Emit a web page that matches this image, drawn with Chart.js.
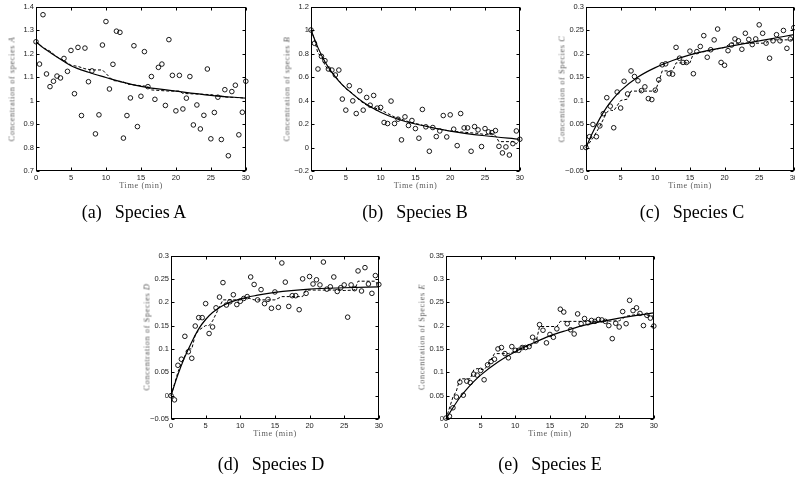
<!DOCTYPE html>
<html>
<head>
<meta charset="utf-8">
<script src="https://cdn.jsdelivr.net/npm/chart.js@4.4.1/dist/chart.umd.min.js"></script>
<style>
  html, body { margin: 0; padding: 0; background: #fff; }
  body { width: 795px; height: 477px; position: relative; overflow: hidden; }
  canvas { position: absolute; }
  .ytitle, .xtitle { position: absolute; white-space: nowrap; font-family: "Liberation Serif", "DejaVu Serif", serif; font-size: 8.3px; letter-spacing: 0.6px; color: #5c5c5c; transform-origin: center center; }
  .cap { position: absolute; white-space: nowrap; font-family: "Liberation Serif", "Times New Roman", serif; font-size: 18px; color: #000; transform: translate(-50%, -50%); }
  .cap span { margin-left: 13px; }
</style>
</head>
<body>
<canvas id="chartA"></canvas>
<canvas id="chartB"></canvas>
<canvas id="chartC"></canvas>
<canvas id="chartD"></canvas>
<canvas id="chartE"></canvas>
<script>
// sample times (min)
const TIME = [0, 0.5, 1, 1.5, 2, 2.5, 3, 3.5, 4, 4.5, 5, 5.5, 6, 6.5, 7, 7.5, 8, 8.5, 9, 9.5, 10, 10.5, 11, 11.5, 12, 12.5, 13, 13.5, 14, 14.5, 15,
  15.5, 16, 16.5, 17, 17.5, 18, 18.5, 19, 19.5, 20, 20.5, 21, 21.5, 22, 22.5, 23, 23.5, 24, 24.5, 25, 25.5, 26, 26.5, 27, 27.5, 28, 28.5, 29, 29.5, 30];
const X_TICKS = [0, 5, 10, 15, 20, 25, 30];
const X_LABELS = ['0', '5', '10', '15', '20', '25', '30'];

// species A
const A_OBS = [1.25, 1.155, 1.365, 1.113, 1.059, 1.082, 1.104, 1.096, 1.179, 1.124, 1.213, 1.029, 1.226, 0.936, 1.223, 1.080, 1.126, 0.858, 0.939, 1.236, 1.336,
  1.049, 1.154, 1.295, 1.290, 0.840, 0.936, 1.011, 1.233, 0.889, 1.018, 1.208, 1.059, 1.102, 1.005, 1.141, 1.155, 0.979, 1.259, 1.107, 0.956,
  1.107, 0.964, 1.010, 1.102, 0.896, 0.981, 0.879, 0.937, 1.134, 0.837, 0.949, 1.014, 0.834, 1.046, 0.765, 1.038, 1.065, 0.854, 0.950, 1.082];
const A_FIT_T = [0, 1, 2, 3, 4, 5, 7.5, 10, 12.5, 15, 20, 25, 30];
const A_FIT = [1.25, 1.225, 1.205, 1.185, 1.166, 1.148, 1.12, 1.098, 1.077, 1.06, 1.04, 1.022, 1.01];
const A_EST_T = [0, 1, 2, 3, 4, 5, 6, 7, 8, 9.5, 10.5, 11, 12.5, 13, 15, 16, 16.5, 19, 20.5, 21, 25, 26, 27, 29, 30];
const A_EST = [1.25, 1.225, 1.21, 1.185, 1.17, 1.15, 1.145, 1.135, 1.13, 1.13, 1.10, 1.085, 1.08, 1.07, 1.063, 1.06, 1.045, 1.04, 1.04, 1.03, 1.025, 1.02, 1.015, 1.012, 1.01];
const A_Y_TICKS = [0.7, 0.8, 0.9, 1.0, 1.1, 1.2, 1.3, 1.4];
const A_Y_LABELS = ['0.7', '0.8', '0.9', '1', '1.1', '1.2', '1.3', '1.4'];

// species B
const B_OBS = [1.0, 0.887, 0.668, 0.776, 0.739, 0.668, 0.659, 0.617, 0.659, 0.412, 0.318, 0.526, 0.397, 0.289, 0.483, 0.318, 0.426, 0.360, 0.443, 0.335, 0.341,
  0.213, 0.204, 0.395, 0.204, 0.241, 0.065, 0.261, 0.187, 0.230, 0.161, 0.079, 0.324, 0.176, -0.032, 0.170, 0.093, 0.141, 0.272, 0.090, 0.278,
  0.156, 0.016, 0.289, 0.167, 0.167, -0.032, 0.178, 0.150, 0.008, 0.161, 0.133, 0.127, 0.144, 0.010, -0.046, 0.005, -0.064, 0.033, 0.141, 0.070];
const B_FIT_T = [0, 1, 2, 3, 4, 5, 7.5, 10, 12.5, 15, 20, 25, 30];
const B_FIT = [1.0, 0.85, 0.73, 0.64, 0.565, 0.505, 0.385, 0.30, 0.24, 0.20, 0.14, 0.10, 0.07];
const B_EST_T = [0, 0.5, 1, 1.5, 2, 2.5, 3, 4, 5, 6, 7, 8, 10, 12, 14, 16, 18, 20, 22, 24, 25, 26, 26.5, 27, 29, 29.5, 30];
const B_EST = [1.0, 0.92, 0.80, 0.78, 0.70, 0.66, 0.64, 0.57, 0.50, 0.46, 0.40, 0.36, 0.32, 0.26, 0.22, 0.19, 0.16, 0.14, 0.13, 0.12, 0.11, 0.12, 0.10, 0.05, 0.05, 0.03, 0.07];
const B_Y_TICKS = [-0.2, 0, 0.2, 0.4, 0.6, 0.8, 1.0, 1.2];
const B_Y_LABELS = ['\u22120.2', '0', '0.2', '0.4', '0.6', '0.8', '1', '1.2'];

// species C
const C_OBS = [0.0, 0.023, 0.049, 0.023, 0.046, 0.072, 0.106, 0.088, 0.042, 0.118, 0.084, 0.141, 0.114, 0.163, 0.151, 0.142, 0.121, 0.129, 0.104, 0.102, 0.122,
  0.144, 0.176, 0.178, 0.157, 0.156, 0.213, 0.190, 0.181, 0.181, 0.205, 0.157, 0.204, 0.215, 0.238, 0.192, 0.208, 0.229, 0.252, 0.181, 0.175,
  0.206, 0.218, 0.231, 0.227, 0.209, 0.243, 0.230, 0.219, 0.231, 0.261, 0.243, 0.222, 0.190, 0.227, 0.240, 0.227, 0.249, 0.211, 0.231, 0.255];
const C_FIT_T = [0, 1, 2, 3, 4, 5, 7.5, 10, 12.5, 15, 17.5, 20, 25, 30];
const C_FIT = [0, 0.033, 0.062, 0.086, 0.105, 0.121, 0.150, 0.170, 0.185, 0.197, 0.206, 0.213, 0.227, 0.240];
const C_EST_T = [0, 1, 2, 3, 3.5, 4, 5, 6, 6.5, 10, 10.5, 11, 12.5, 13, 15, 15.5, 17.5, 20, 21, 26, 26.5, 30];
const C_EST = [0, 0.02, 0.045, 0.075, 0.08, 0.078, 0.10, 0.103, 0.12, 0.12, 0.14, 0.163, 0.163, 0.18, 0.18, 0.20, 0.205, 0.213, 0.222, 0.222, 0.229, 0.229];
const C_Y_TICKS = [-0.05, 0, 0.05, 0.1, 0.15, 0.2, 0.25, 0.3];
const C_Y_LABELS = ['\u22120.05', '0', '0.05', '0.1', '0.15', '0.2', '0.25', '0.3'];

// species D
const D_OBS = [0, -0.009, 0.065, 0.078, 0.127, 0.094, 0.080, 0.149, 0.167, 0.167, 0.197, 0.133, 0.147, 0.188, 0.211, 0.242, 0.194, 0.201, 0.216, 0.195, 0.202,
  0.208, 0.212, 0.254, 0.238, 0.205, 0.227, 0.197, 0.206, 0.187, 0.222, 0.189, 0.284, 0.243, 0.191, 0.214, 0.214, 0.184, 0.250, 0.219, 0.255,
  0.239, 0.248, 0.237, 0.286, 0.228, 0.233, 0.254, 0.223, 0.231, 0.237, 0.168, 0.237, 0.229, 0.267, 0.224, 0.274, 0.239, 0.219, 0.257, 0.238];
const D_FIT_T = [0, 1, 2, 3, 4, 5, 6, 7.5, 10, 12.5, 15, 20, 25, 30];
const D_FIT = [0, 0.045, 0.083, 0.115, 0.143, 0.163, 0.178, 0.193, 0.207, 0.215, 0.221, 0.228, 0.231, 0.233];
const D_EST_T = [0, 1, 1.5, 2.5, 3, 3.5, 4, 5, 5.5, 6, 6.5, 7, 7.5, 10, 11, 12, 15, 16, 19, 19.5, 24, 25, 26.5, 27, 29.5, 30];
const D_EST = [0, 0.05, 0.07, 0.10, 0.10, 0.13, 0.14, 0.15, 0.15, 0.16, 0.175, 0.19, 0.205, 0.205, 0.21, 0.205, 0.205, 0.212, 0.212, 0.226, 0.226, 0.225, 0.226, 0.245, 0.245, 0.235];
const D_Y_TICKS = C_Y_TICKS;
const D_Y_LABELS = C_Y_LABELS;

// species E
const E_OBS = [0.002, 0.006, 0.024, 0.047, 0.079, 0.051, 0.081, 0.078, 0.096, 0.094, 0.104, 0.084, 0.116, 0.123, 0.128, 0.150, 0.153, 0.140, 0.131, 0.155, 0.147,
  0.147, 0.153, 0.153, 0.155, 0.175, 0.167, 0.202, 0.190, 0.163, 0.181, 0.175, 0.193, 0.235, 0.229, 0.204, 0.191, 0.182, 0.225, 0.204, 0.215,
  0.206, 0.211, 0.209, 0.213, 0.212, 0.209, 0.200, 0.172, 0.205, 0.197, 0.230, 0.204, 0.254, 0.232, 0.238, 0.226, 0.200, 0.222, 0.216, 0.199];
const E_FIT_T = [0, 1, 2, 3, 4, 5, 7.5, 10, 12.5, 15, 17.5, 20, 25, 30];
const E_FIT = [0, 0.024, 0.046, 0.064, 0.080, 0.094, 0.122, 0.144, 0.162, 0.178, 0.190, 0.201, 0.216, 0.227];
const E_EST_T = [0, 1, 1.5, 2, 3.5, 4, 4.5, 5.5, 6, 7, 9, 10, 11, 12, 13, 13.5, 16, 16.5, 22, 25, 26, 28, 30];
const E_EST = [0, 0.047, 0.06, 0.086, 0.086, 0.105, 0.108, 0.105, 0.115, 0.14, 0.14, 0.145, 0.155, 0.155, 0.165, 0.198, 0.198, 0.209, 0.209, 0.21, 0.22, 0.225, 0.22];
const E_Y_TICKS = [0, 0.05, 0.1, 0.15, 0.2, 0.25, 0.3, 0.35];
const E_Y_LABELS = ['0', '0.05', '0.1', '0.15', '0.2', '0.25', '0.3', '0.35'];

// layout: plot-area edges in page pixels
const PAD_L = 36, PAD_T = 6, PAD_R = 6, PAD_B = 24;
const panels = [
  { id: 'chartA', l: 36, t: 6, r: 246, b: 171, obs: A_OBS, fitT: A_FIT_T, fit: A_FIT, estT: A_EST_T, est: A_EST, yt: A_Y_TICKS, yl: A_Y_LABELS, title: 'Concentration of species ', sp: 'A', cap: '(a)', capName: 'Species A', cx: 134, cy: 212 },
  { id: 'chartB', l: 311, t: 6, r: 520, b: 171, obs: B_OBS, fitT: B_FIT_T, fit: B_FIT, estT: B_EST_T, est: B_EST, yt: B_Y_TICKS, yl: B_Y_LABELS, title: 'Concentration of species ', sp: 'B', cap: '(b)', capName: 'Species B', cx: 415, cy: 212 },
  { id: 'chartC', l: 586, t: 6, r: 794, b: 171, obs: C_OBS, fitT: C_FIT_T, fit: C_FIT, estT: C_EST_T, est: C_EST, yt: C_Y_TICKS, yl: C_Y_LABELS, title: 'Concentration of Species ', sp: 'C', cap: '(c)', capName: 'Species C', cx: 692, cy: 212 },
  { id: 'chartD', l: 171, t: 255, r: 379, b: 419, obs: D_OBS, fitT: D_FIT_T, fit: D_FIT, estT: D_EST_T, est: D_EST, yt: D_Y_TICKS, yl: D_Y_LABELS, title: 'Concentration of Species ', sp: 'D', cap: '(d)', capName: 'Species D', cx: 271, cy: 464 },
  { id: 'chartE', l: 446, t: 255, r: 654, b: 419, obs: E_OBS, fitT: E_FIT_T, fit: E_FIT, estT: E_EST_T, est: E_EST, yt: E_Y_TICKS, yl: E_Y_LABELS, title: 'Concentration of Species ', sp: 'E', cap: '(e)', capName: 'Species E', cx: 550, cy: 464 }
];

// box around the plot plus inward tick marks on all four sides
const boxTicks = {
  id: 'boxTicks',
  afterDraw(chart) {
    const { ctx, chartArea: a, scales: { x, y } } = chart;
    const L = Math.round(a.left) + 0.5, R = Math.round(a.right) - 0.5;
    const T = Math.round(a.top) + 0.5, B = Math.round(a.bottom) - 0.5;
    ctx.save();
    ctx.strokeStyle = '#000';
    ctx.lineWidth = 1;
    ctx.strokeRect(L, T, R - L, B - T);
    ctx.beginPath();
    x.ticks.forEach(t => {
      const px = Math.round(x.getPixelForValue(t.value)) + 0.5;
      ctx.moveTo(px, B); ctx.lineTo(px, B - 3);
      ctx.moveTo(px, T); ctx.lineTo(px, T + 3);
    });
    y.ticks.forEach(t => {
      const py = Math.round(y.getPixelForValue(t.value)) + 0.5;
      ctx.moveTo(L, py); ctx.lineTo(L + 3, py);
      ctx.moveTo(R, py); ctx.lineTo(R - 3, py);
    });
    ctx.stroke();
    ctx.restore();
  }
};

const tickFont = { family: '"Liberation Sans", Arial, sans-serif', size: 7.5 };

panels.forEach(p => {
  const cv = document.getElementById(p.id);
  const w = (p.r - p.l) + PAD_L + PAD_R;
  const h = (p.b - p.t) + PAD_T + PAD_B;
  cv.width = w; cv.height = h;
  cv.style.left = (p.l - PAD_L) + 'px';
  cv.style.top = (p.t - PAD_T) + 'px';
  cv.style.width = w + 'px'; cv.style.height = h + 'px';

  new Chart(cv.getContext('2d'), {
    type: 'scatter',
    data: {
      datasets: [
        { data: TIME.map((t, i) => ({ x: t, y: p.obs[i] })), showLine: false, pointStyle: 'circle', pointRadius: 2.3, pointBorderWidth: 0.9,
          pointBorderColor: '#000', pointBackgroundColor: 'rgba(0,0,0,0)', clip: 4 },
        { data: p.estT.map((t, i) => ({ x: t, y: p.est[i] })), showLine: true, pointRadius: 0, borderColor: '#000', borderWidth: 1,
          borderDash: [3, 2], tension: 0, clip: 2 },
        { data: p.fitT.map((t, i) => ({ x: t, y: p.fit[i] })), showLine: true, pointRadius: 0, borderColor: '#000', borderWidth: 1.2,
          cubicInterpolationMode: 'monotone', clip: 2 }
      ]
    },
    options: {
      responsive: false, animation: false, devicePixelRatio: 1,
      layout: { padding: { top: PAD_T, right: PAD_R, left: 0, bottom: 0 } },
      plugins: { legend: { display: false }, tooltip: { enabled: false } },
      scales: {
        x: {
          type: 'linear', min: 0, max: 30,
          grid: { display: false, drawTicks: false, tickLength: 0 }, border: { display: false },
          afterBuildTicks: s => { s.ticks = X_TICKS.map(v => ({ value: v })); },
          afterFit: s => { s.height = PAD_B; },
          ticks: { font: tickFont, color: '#222', padding: 2, maxRotation: 0, autoSkip: false,
            callback: (v) => X_LABELS[X_TICKS.indexOf(v)] }
        },
        y: {
          type: 'linear', min: p.yt[0], max: p.yt[p.yt.length - 1],
          grid: { display: false, drawTicks: false, tickLength: 0 }, border: { display: false },
          afterBuildTicks: s => { s.ticks = p.yt.map(v => ({ value: v })); },
          afterFit: s => { s.width = PAD_L; },
          ticks: { font: tickFont, color: '#222', padding: 2, autoSkip: false,
            callback: (v) => p.yl[p.yt.indexOf(v)] }
        }
      }
    },
    plugins: [boxTicks]
  });

  // axis titles and caption
  const yt = document.createElement('div');
  yt.className = 'ytitle';
  yt.innerHTML = p.title + '<i>' + p.sp + '</i>';
  document.body.appendChild(yt);
  yt.style.left = (p.l - 24) + 'px';
  yt.style.top = ((p.t + p.b) / 2) + 'px';
  yt.style.transform = 'translate(-50%, -50%) rotate(-90deg)';

  const xt = document.createElement('div');
  xt.className = 'xtitle';
  xt.textContent = 'Time (min)';
  document.body.appendChild(xt);
  xt.style.left = ((p.l + p.r) / 2) + 'px';
  xt.style.top = (p.b + 14) + 'px';
  xt.style.transform = 'translate(-50%, -50%)';

  const cap = document.createElement('div');
  cap.className = 'cap';
  cap.innerHTML = p.cap + '<span>' + p.capName + '</span>';
  cap.style.left = p.cx + 'px';
  cap.style.top = p.cy + 'px';
  document.body.appendChild(cap);
});
</script>
</body>
</html>
